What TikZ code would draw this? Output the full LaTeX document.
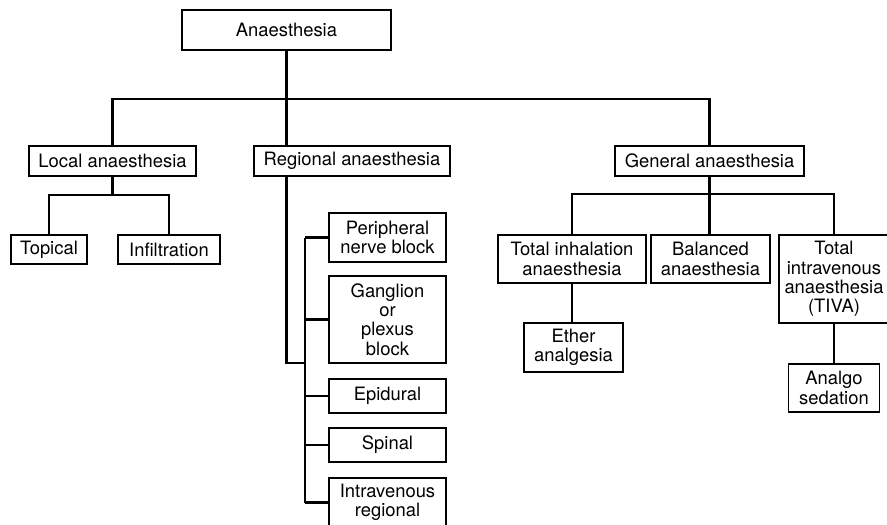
\documentclass[tikz,border=0pt]{standalone}
\usepackage{fontspec}
\setmainfont{TeX Gyre Heros}
\usetikzlibrary{calc}

\begin{document}
\begin{tikzpicture}[x=0.75pt,y=0.75pt,yscale=-1,
  box/.style={draw, line width=0.9pt, align=center, inner sep=0pt,
    font=\fontsize{13.8}{14.5}\selectfont},
  sz/.style 2 args={minimum width=#1*0.75pt, minimum height=#2*0.75pt},
  link/.style={line width=1.9pt}]

%set diagram frame 887 x 524
\useasboundingbox (0,0) rectangle (887,524);
\clip (0,0) rectangle (887,524);

% Top Node
\node [box, sz={209}{40}] (anaes) at (286.5,30) {Anaesthesia};

% Level 1
\node [box, sz={167}{30}] (local) at (112.5,161) {Local anaesthesia};
\node [box, sz={196}{30}] (regional) at (352,161) {Regional anaesthesia};
\node [box, sz={189}{30}] (general) at (709.5,161) {General anaesthesia};

% Local
\node [box, sz={76}{29}] (topical) at (49,249.5) {Topical};
\node [box, sz={102}{29}] (infil) at (169,249.5) {Infiltration};

% Regional
\node [box, sz={117}{49}] (periph) at (387.5,237.5) {Peripheral\\nerve block};
\node [box, sz={117}{87}] (ganglion) at (387.5,319.5) {Ganglion\\or\\plexus\\block};
\node [box, sz={117}{34}] (epidural) at (387.5,396) {Epidural};
\node [box, sz={117}{34}] (spinal) at (387.5,445) {Spinal};
\node [box, sz={117}{49}] (ivr) at (387.5,502.5) {Intravenous\\regional};

% General
\node [box, sz={148}{48}] (inhal) at (572,259) {Total inhalation\\anaesthesia};
\node [box, sz={119}{48}] (balanced) at (710.5,259) {Balanced\\anaesthesia};
\node [box, sz={110}{88}] (tiva) at (834,279) {Total\\intravenous\\anaesthesia\\(TIVA)};
\node [box, sz={99}{49}] (ether) at (573.5,347.5) {Ether\\analgesia};
\node [box, sz={91}{48}] (analgo) at (834,388) {Analgo\\sedation};

% Junctions
\coordinate (bus) at (286.5,99);
\coordinate (lj) at (112.5,195);
\coordinate (rj) at (305,363);
\coordinate (gj) at (709.5,194);

% Connectors
\draw [link] (anaes.south) -- (anaes.south |- regional.north);
\draw [link] (local.north) |- (bus) -| (general.north);

\draw [link] (local.south) -- (lj);
\draw [link] (topical.north) |- (lj) -| (infil.north);

\draw [link] (anaes.south |- regional.south) |- (rj);
\draw [link] (periph.west -| rj) -- (ivr.west -| rj);
\foreach \n in {periph,ganglion,epidural,spinal,ivr}
  \draw [link] (\n.west) -- (\n.west -| rj);

\draw [link] (general.south) -- (gj);
\draw [link] (inhal.north) |- (gj) -| (tiva.north);
\draw [link] (gj) -- (gj |- balanced.north);
\draw [link] (inhal.south) -- (inhal.south |- ether.north);
\draw [link] (tiva.south) -- (analgo.north);

\end{tikzpicture}
\end{document}
